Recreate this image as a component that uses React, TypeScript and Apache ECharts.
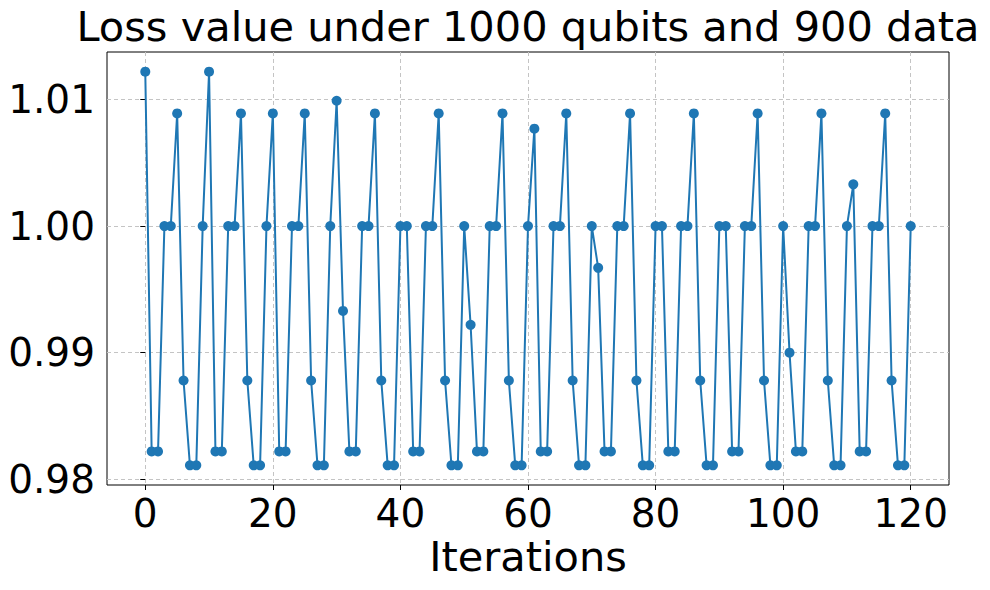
import React, { useEffect, useRef } from 'react';
import * as echarts from 'echarts';

const titleText = 'Loss value under 1000 qubits and 900 data';
const xAxisName = 'Iterations';
const xTicks = [0, 20, 40, 60, 80, 100, 120];
const yTicks = [0.98, 0.99, 1.0, 1.01];

const lossValues = [
  1.0122, 0.9822, 0.9822, 1.0, 1.0, 1.0089, 0.9878, 0.9811, 0.9811, 1.0,
  1.0122, 0.9822, 0.9822, 1.0, 1.0, 1.0089, 0.9878, 0.9811, 0.9811, 1.0,
  1.0089, 0.9822, 0.9822, 1.0, 1.0, 1.0089, 0.9878, 0.9811, 0.9811, 1.0,
  1.0099, 0.9933, 0.9822, 0.9822, 1.0, 1.0, 1.0089, 0.9878, 0.9811, 0.9811,
  1.0, 1.0, 0.9822, 0.9822, 1.0, 1.0, 1.0089, 0.9878, 0.9811, 0.9811,
  1.0, 0.9922, 0.9822, 0.9822, 1.0, 1.0, 1.0089, 0.9878, 0.9811, 0.9811,
  1.0, 1.0077, 0.9822, 0.9822, 1.0, 1.0, 1.0089, 0.9878, 0.9811, 0.9811,
  1.0, 0.9967, 0.9822, 0.9822, 1.0, 1.0, 1.0089, 0.9878, 0.9811, 0.9811,
  1.0, 1.0, 0.9822, 0.9822, 1.0, 1.0, 1.0089, 0.9878, 0.9811, 0.9811,
  1.0, 1.0, 0.9822, 0.9822, 1.0, 1.0, 1.0089, 0.9878, 0.9811, 0.9811,
  1.0, 0.99, 0.9822, 0.9822, 1.0, 1.0, 1.0089, 0.9878, 0.9811, 0.9811,
  1.0, 1.0033, 0.9822, 0.9822, 1.0, 1.0, 1.0089, 0.9878, 0.9811, 0.9811,
  1.0,
];

const FONT = '"DejaVu Sans", sans-serif';
const FS_TICK = 39;
const FS_LABEL = 41.5;

export default function App() {
  const ref = useRef<HTMLDivElement>(null);
  useEffect(() => {
    if (!ref.current) return;
    const chart = echarts.init(ref.current, null, { renderer: 'svg' });
    const points = lossValues.map((v, i) => [i, v]);
    const gridLine = { show: true, lineStyle: { color: '#c4c4c4', type: [4, 3] as any, width: 1 } };
    chart.setOption({
      animation: false,
      backgroundColor: '#ffffff',
      title: [
        {
          text: titleText,
          left: 523,
          textAlign: 'center',
          top: 0,
          textStyle: { fontFamily: FONT, fontSize: FS_LABEL, fontWeight: 'normal', color: '#000' },
        },
        {
          text: xAxisName,
          left: 523,
          textAlign: 'center',
          top: 530,
          textStyle: { fontFamily: FONT, fontSize: FS_LABEL, fontWeight: 'normal', color: '#000' },
        },
      ],
      grid: {
        left: 107,
        right: 41,
        top: 52,
        bottom: 105,
        show: true,
        borderColor: '#000',
        borderWidth: 1,
        backgroundColor: 'transparent',
      },
      xAxis: {
        type: 'value',
        min: -6,
        max: 126,
        splitNumber: 7,
        axisLine: { show: false },
        axisTick: { show: true, length: 5, inside: false, lineStyle: { color: '#000' }, customValues: xTicks },
        axisLabel: {
          customValues: xTicks,
          margin: 9,
          fontFamily: FONT,
          fontSize: FS_TICK,
          color: '#000',
          formatter: (v: number) => String(v),
        },
        splitLine: gridLine,
      },
      yAxis: {
        type: 'value',
        min: 0.979545,
        max: 1.013755,
        splitNumber: 4,
        axisLine: { show: false },
        axisTick: { show: true, length: 5, inside: false, lineStyle: { color: '#000' }, customValues: yTicks },
        axisLabel: {
          customValues: yTicks,
          margin: 12,
          fontFamily: FONT,
          fontSize: FS_TICK,
          color: '#000',
          formatter: (v: number) => v.toFixed(2),
        },
        splitLine: gridLine,
      },
      series: [
        {
          type: 'line',
          data: points,
          symbol: 'circle',
          symbolSize: 10,
          showAllSymbol: true,
          itemStyle: { color: '#1f77b4' },
          lineStyle: { color: '#1f77b4', width: 2 },
        },
      ],
    });
    return () => chart.dispose();
  }, []);
  return <div ref={ref} style={{ width: 990, height: 590, position: 'absolute', left: 0, top: 0 }} />;
}
